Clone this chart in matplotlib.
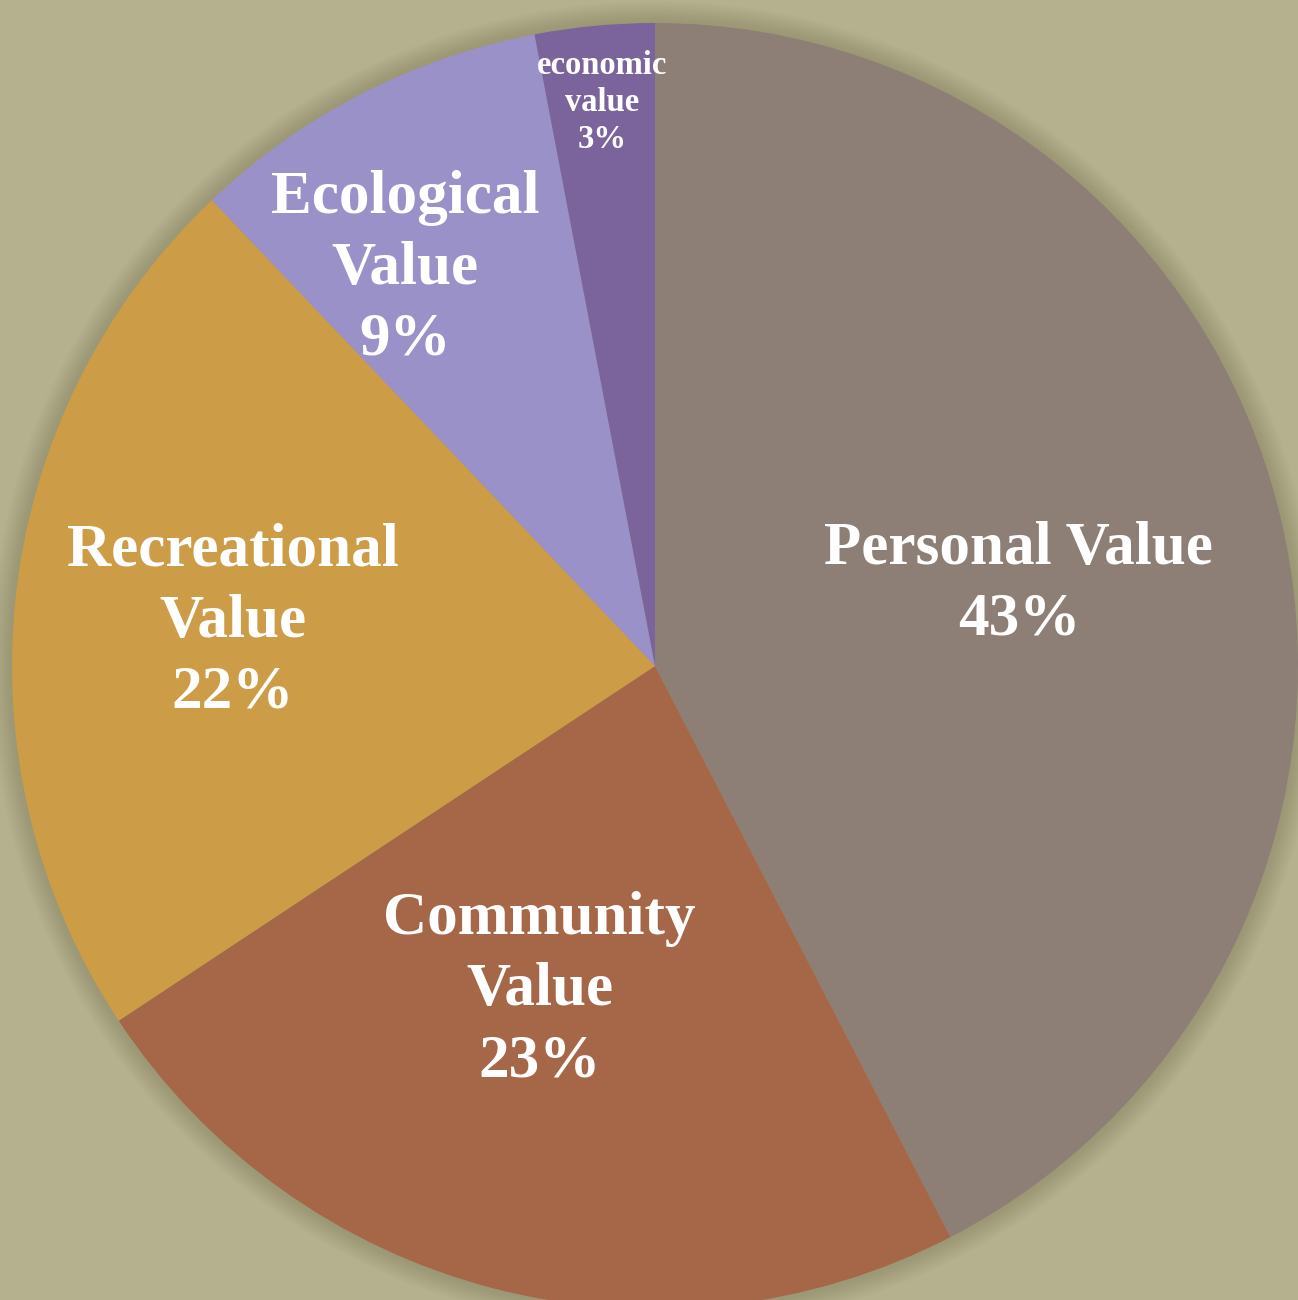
import matplotlib.pyplot as plt
import matplotlib.patches as mpatches
import numpy as np

# dados do gráfico
categorias = ["Personal Value", "Community\nValue", "Recreational\nValue",
              "Ecological\nValue", "economic\nvalue"]
valores = [42.4, 23.3, 22.2, 9.1, 3.0]
rotulos_pct = ["43%", "23%", "22%", "9%", "3%"]

cores = ["#8e7f76", "#a56747", "#cd9c46", "#9a91c9", "#7b649c"]
fundo = "#b5b18f"

fig = plt.figure(figsize=(12.98, 13.0), dpi=100)
fig.patch.set_facecolor(fundo)
ax = fig.add_axes([0, 0, 1, 1])
ax.set_facecolor(fundo)

centro = (655, 1300 - 666)
raio = 643

# sombra suave em volta da pizza
for i in range(14):
    r = raio + 22 - i * 1.6
    ax.add_patch(mpatches.Circle(centro, r, color="#76724f", alpha=0.025, lw=0, zorder=0))

fatias, _ = ax.pie(valores, colors=cores, startangle=90, counterclock=False,
                   center=centro, radius=raio,
                   wedgeprops=dict(linewidth=0, zorder=1))

# posição dos rótulos: fração do raio e desvio de ângulo (graus)
dist = [0.58, 0.535, 0.66, 0.73, 0.88]
desvio = [-1, -5, 0.5, 5, 0]
tamanhos = [44, 44, 44, 44, 23.5]
entrelinhas = [1.35, 1.35, 1.35, 1.35, 1.25]

for w, cat, pct, d, da, fs, ls in zip(fatias, categorias, rotulos_pct, dist,
                                      desvio, tamanhos, entrelinhas):
    ang = np.deg2rad((w.theta1 + w.theta2) / 2 + da)
    x = centro[0] + d * raio * np.cos(ang)
    y = centro[1] + d * raio * np.sin(ang)
    ax.text(x, y, cat + "\n" + pct, ha="center", va="center", ma="center",
            color="white", fontsize=fs, fontweight="bold",
            family="Liberation Serif", linespacing=ls, zorder=3)

ax.set_xlim(0, 1298)
ax.set_ylim(0, 1300)
ax.set_aspect("equal")
ax.axis("off")

plt.savefig("out.png", dpi=100, facecolor=fundo)
